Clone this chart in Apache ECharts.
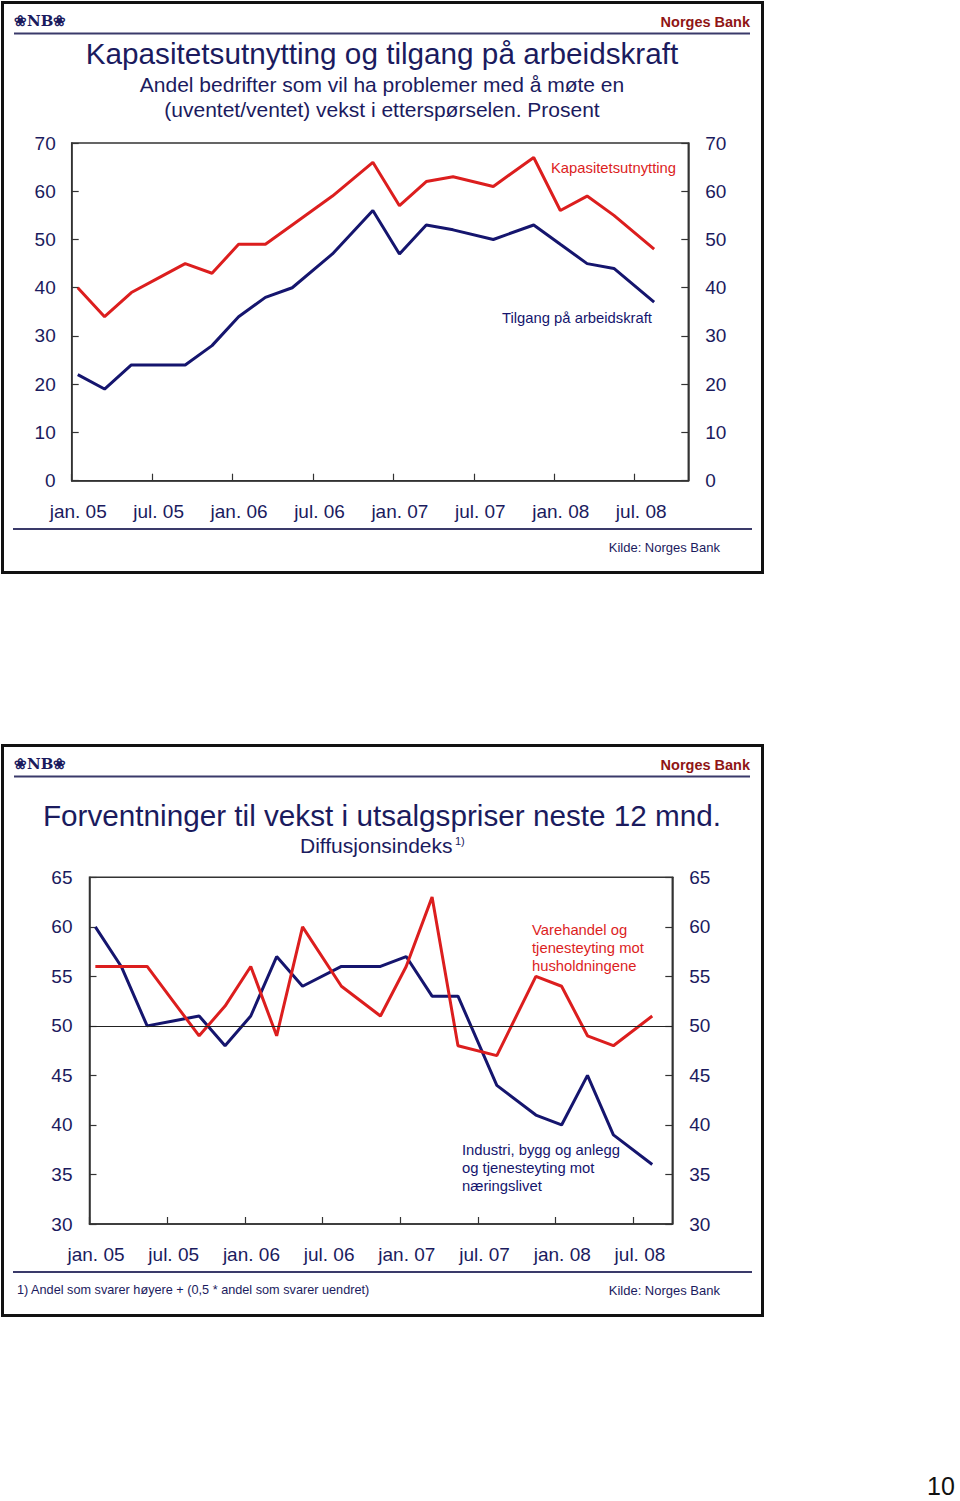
<!DOCTYPE html>
<html>
<head>
<meta charset="utf-8">
<script src="https://cdn.jsdelivr.net/npm/echarts@6/dist/echarts.min.js"></script>
<style>
html,body{margin:0;padding:0;background:#fff;}
#c{width:960px;height:1501px;}
</style>
</head>
<body>
<div id="c"></div>
<script>
// ---- data ----
const surveyDates = ['2005-01-15','2005-03-15','2005-05-15','2005-07-15','2005-09-15','2005-11-15',
  '2006-01-15','2006-03-15','2006-05-15','2006-08-15','2006-11-15',
  '2007-01-15','2007-03-15','2007-05-15','2007-08-15','2007-11-15',
  '2008-01-15','2008-03-15','2008-05-15','2008-08-15'];
// Chart 1: Kapasitetsutnytting og tilgang på arbeidskraft (prosent)
const kapasitetsutnytting = [40,34,39,42,45,43,49,49,53,59,66,57,62,63,61,67,56,59,55,48];
const tilgangArbeidskraft = [22,19,24,24,24,28,34,38,40,47,56,47,53,52,50,53,49,45,44,37];
// Chart 2: Forventninger til vekst i utsalgspriser (diffusjonsindeks)
const varehandelHusholdninger = [56,56,56,52.5,49,52,56,49,60,54,51,56,63,48,47,55,54,49,48,51];
const industriNaeringsliv = [60,56,50,50.5,51,48,51,57,54,56,56,57,53,53,44,41,40,45,39,36];
// Tick labels (half-year)
const xTickLabels = ['jan. 05','jul. 05','jan. 06','jul. 06','jan. 07','jul. 07','jan. 08','jul. 08'];
const axisStart = '2005-01-01';
const chart1End = '2008-11-01';
const chart2End = '2008-10-01';

// ---- helpers ----
function monthIndex(s){
  const p = s.split('-').map(Number);
  const base = axisStart.split('-').map(Number);
  const dim = new Date(p[0], p[1], 0).getDate();
  return (p[0]-base[0])*12 + (p[1]-base[1]) + (p[2]-1)/dim;
}
function pairs(vals){ return surveyDates.map((d,i)=>[monthIndex(d), vals[i]]); }

const NAVY = '#1b1b5e';
const RED = '#dc1e1e';
const BLUE = '#15156e';
const AXIS = '#333333';
const FONT = 'Liberation Sans, Arial, Helvetica, sans-serif';

function xAxisFor(g, max){
  return {
    gridIndex:g, type:'value', min:0, max:max, interval:6,
    axisLine:{show:true, lineStyle:{color:AXIS, width:1.5}},
    axisTick:{show:true, inside:true, length:7, lineStyle:{color:AXIS, width:1.2}},
    splitLine:{show:false},
    axisLabel:{
      color:NAVY, fontSize:19, fontFamily:FONT, margin:21, padding:[0,0,0,13],
      showMaxLabel:false,
      formatter:function(v){
        if (Math.abs(v % 6) > 1e-6) return '';
        const i = Math.round(v/6);
        return i < xTickLabels.length ? xTickLabels[i] : '';
      }
    }
  };
}
function yAxisFor(g, pos, min, max, interval, margin){
  return {
    gridIndex:g, type:'value', position:pos, min:min, max:max, interval:interval,
    axisLine:{show:true, lineStyle:{color:AXIS, width:1.5}},
    axisTick:{show:true, inside:true, length:7, lineStyle:{color:AXIS, width:1.2}},
    splitLine:{show:false},
    axisLabel:{color:NAVY, fontSize:19, fontFamily:FONT, margin:margin, padding:[3,0,0,0]}
  };
}
function txt(x, y, text, font, color, align){
  return {type:'text', x:x, y:y, silent:true,
    style:{text:text, font:font, fill:color, textAlign:align||'left', align:align||'left',
           textVerticalAlign:'middle', verticalAlign:'middle'}};
}
function hline(x1,x2,y,color,w){
  return {type:'line', silent:true, shape:{x1:x1,y1:y,x2:x2,y2:y}, style:{stroke:color, lineWidth:w}};
}

const off = 743;
const graphics = [
  {type:'rect', silent:true, shape:{x:2.5,y:2.5,width:760,height:570}, style:{fill:'none', stroke:'#111', lineWidth:3}},
  {type:'rect', silent:true, shape:{x:2.5,y:2.5+off,width:760,height:570}, style:{fill:'none', stroke:'#111', lineWidth:3}},
  hline(14,750,33.5,'#3a3a6a',2),
  hline(13,752,529,'#3a3a6a',2),
  hline(14,750,33.5+off,'#3a3a6a',2),
  hline(13,752,1272,'#3a3a6a',2),
  txt(14,21,'❀NB❀','bold 15px DejaVu Serif, serif',NAVY),
  txt(14,21+off,'❀NB❀','bold 15px DejaVu Serif, serif',NAVY),
  txt(750,22,'Norges Bank','bold 14.5px '+FONT,'#8f1515','right'),
  txt(750,22+off,'Norges Bank','bold 14.5px '+FONT,'#8f1515','right'),
  // chart 1 texts
  txt(382,53,'Kapasitetsutnytting og tilgang på arbeidskraft','29.7px '+FONT,NAVY,'center'),
  txt(382,84,'Andel bedrifter som vil ha problemer med å møte en','21px '+FONT,NAVY,'center'),
  txt(382,109,'(uventet/ventet) vekst i etterspørselen. Prosent','21px '+FONT,NAVY,'center'),
  txt(551,168,'Kapasitetsutnytting','14.8px '+FONT,RED),
  txt(502,318,'Tilgang på arbeidskraft','14.8px '+FONT,BLUE),
  txt(720,547,'Kilde: Norges Bank','13px '+FONT,NAVY,'right'),
  // chart 2 texts
  txt(382,815,'Forventninger til vekst i utsalgspriser neste 12 mnd.','29.7px '+FONT,NAVY,'center'),
  txt(300,845,'Diffusjonsindeks','21px '+FONT,NAVY),
  txt(455,841,'1)','11px '+FONT,NAVY),
  txt(532,930,'Varehandel og','14.8px '+FONT,RED),
  txt(532,948,'tjenesteyting mot','14.8px '+FONT,RED),
  txt(532,966,'husholdningene','14.8px '+FONT,RED),
  txt(462,1150,'Industri, bygg og anlegg','14.8px '+FONT,BLUE),
  txt(462,1168,'og tjenesteyting mot','14.8px '+FONT,BLUE),
  txt(462,1186,'næringslivet','14.8px '+FONT,BLUE),
  txt(17,1290,'1) Andel som svarer høyere + (0,5 * andel som svarer uendret)','12.7px '+FONT,NAVY),
  txt(720,1290,'Kilde: Norges Bank','13px '+FONT,NAVY,'right'),
  txt(941,1486,'10','25px '+FONT,'#111','center')
];

const chart = echarts.init(document.getElementById('c'), null, {renderer:'svg', width:960, height:1501});
chart.setOption({
  animation:false,
  backgroundColor:'#ffffff',
  grid:[
    {left:71.7, top:143, width:616.6, height:337.7, show:true, borderColor:AXIS, borderWidth:1.5, backgroundColor:'transparent'},
    {left:89.5, top:877.3, width:582.8, height:346.7, show:true, borderColor:AXIS, borderWidth:1.5, backgroundColor:'transparent'}
  ],
  xAxis:[ xAxisFor(0, monthIndex(chart1End)), xAxisFor(1, monthIndex(chart2End)) ],
  yAxis:[
    yAxisFor(0,'left',0,70,10,16),
    yAxisFor(0,'right',0,70,10,17),
    yAxisFor(1,'left',30,65,5,17),
    yAxisFor(1,'right',30,65,5,17)
  ],
  series:[
    {type:'line', name:'Tilgang på arbeidskraft', xAxisIndex:0, yAxisIndex:0, data:pairs(tilgangArbeidskraft),
      symbol:'none', lineStyle:{color:BLUE, width:3}, itemStyle:{color:BLUE}},
    {type:'line', name:'Kapasitetsutnytting', xAxisIndex:0, yAxisIndex:0, data:pairs(kapasitetsutnytting),
      symbol:'none', lineStyle:{color:RED, width:3}, itemStyle:{color:RED}},
    {type:'line', name:'Industri, bygg og anlegg og tjenesteyting mot næringslivet', xAxisIndex:1, yAxisIndex:2,
      data:pairs(industriNaeringsliv), symbol:'none', lineStyle:{color:BLUE, width:3}, itemStyle:{color:BLUE},
      markLine:{silent:true, symbol:['none','none'], label:{show:false},
        lineStyle:{color:'#222', width:1.2, type:'solid'}, data:[{yAxis:50}]}},
    {type:'line', name:'Varehandel og tjenesteyting mot husholdningene', xAxisIndex:1, yAxisIndex:2,
      data:pairs(varehandelHusholdninger), symbol:'none', lineStyle:{color:RED, width:3}, itemStyle:{color:RED}}
  ],
  graphic:graphics
});
</script>
</body>
</html>
